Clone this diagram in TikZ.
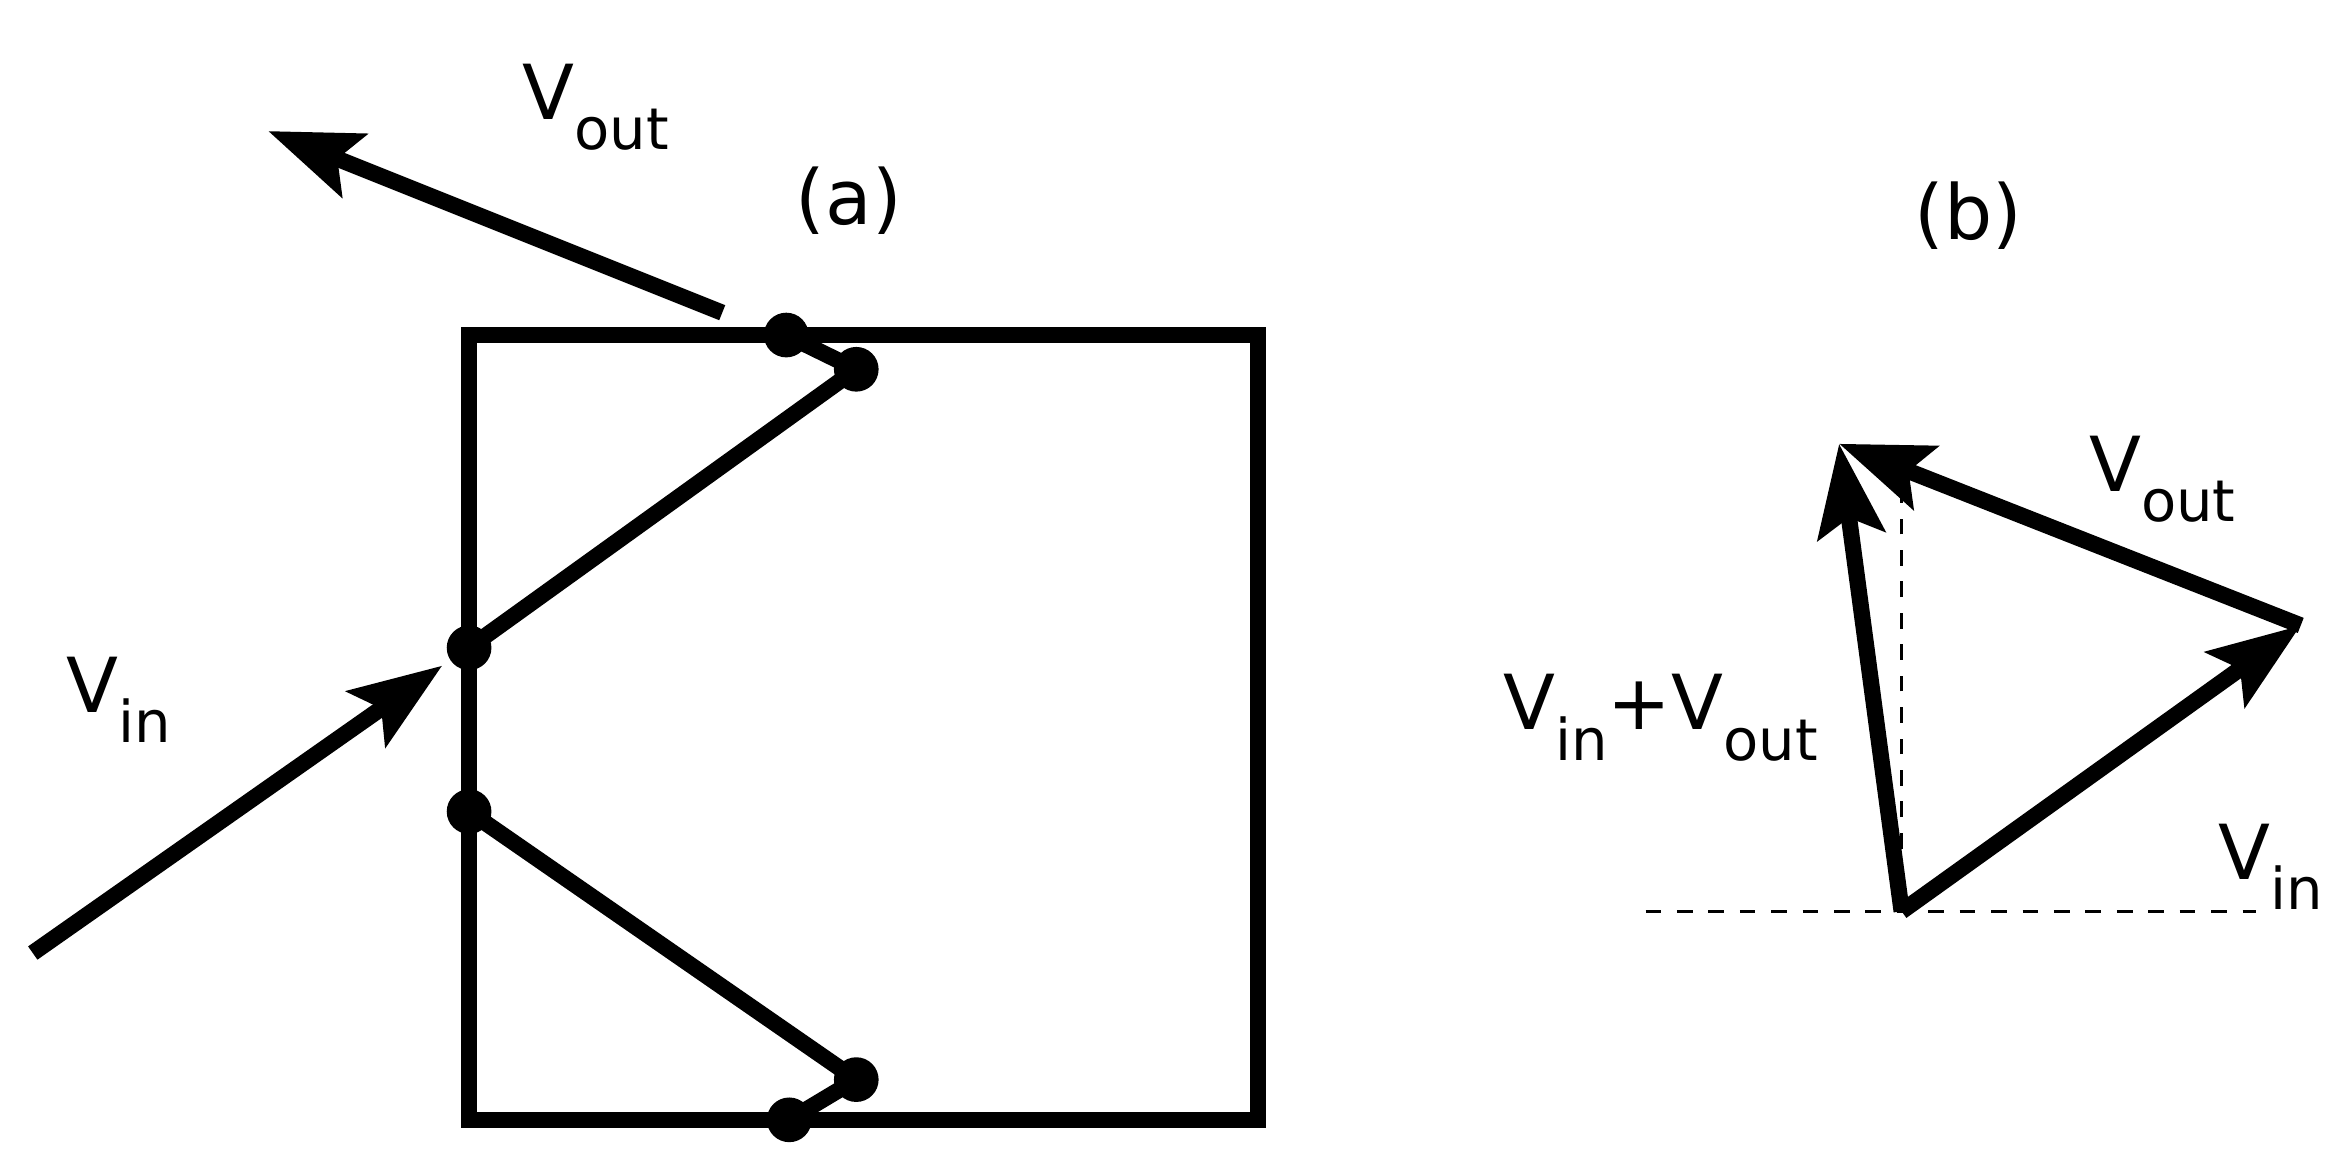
\documentclass[tikz,border=0pt]{standalone}
\usepackage{fontspec}
\setmainfont{DejaVu Sans}
\usetikzlibrary{arrows.meta}
\begin{document}
\begin{tikzpicture}[x=0.01cm,y=-0.01cm,
  ln/.style={line width=3.1pt},
  ar/.style={ln,-{Stealth[length=0.62cm,width=0.45cm,inset=0.12cm]}},
  dot/.style={circle,fill,inner sep=0pt,minimum size=0.3cm},
  lab/.style={font=\fontsize{14.5}{16}\selectfont,inner sep=0pt}]
\useasboundingbox (0,0) rectangle (1568,789);
\newcommand{\sbs}[1]{\raisebox{-0.4em}{\fontsize{11}{12}\selectfont #1}}
% (a)
\draw[ln] (315,225) rectangle (845,752);
\coordinate (ain) at (22,640);
\coordinate (aint) at (297,447);
\draw[ar] (ain) -- (aint);
\node[dot] (d1) at (315,435) {};
\node[dot] (d2) at (575,248) {};
\node[dot] (d3) at (528,225) {};
\node[dot] (d4) at (315,545) {};
\node[dot] (d5) at (575,725) {};
\node[dot] (d6) at (530,752) {};
\draw[ln] (d1.center) -- (d2.center) -- (d3.center);
\draw[ln] (d4.center) -- (d5.center) -- (d6.center);
\coordinate (aos) at (485,210);
\coordinate (aot) at (180,88);
\draw[ar] (aos) -- (aot);
\node[lab] (lvin) at (80,470) {V\sbs{in}};
\node[lab] (lvout) at (400,72) {V\sbs{out}};
\node[lab] (la) at (570,135) {(a)};
% (b)
\coordinate (O) at (1277,612);
\coordinate (P) at (1545,420);
\coordinate (Q) at (1235,298);
\draw[dashed,line width=0.6pt] (1105,612) -- (1515,612);
\draw[dashed,line width=0.6pt] (O) -- (1277,298);
\draw[ar] (O) -- (P);
\draw[ar] (P) -- (Q);
\draw[ar] (O) -- (Q);
\node[lab] (lb) at (1322,145) {(b)};
\node[lab] (lbo) at (1452,322) {V\sbs{out}};
\node[lab] (lbs) at (1115,482) {V\sbs{in}+V\sbs{out}};
\node[lab] (lbi) at (1525,582) {V\sbs{in}};
\end{tikzpicture}
\end{document}
